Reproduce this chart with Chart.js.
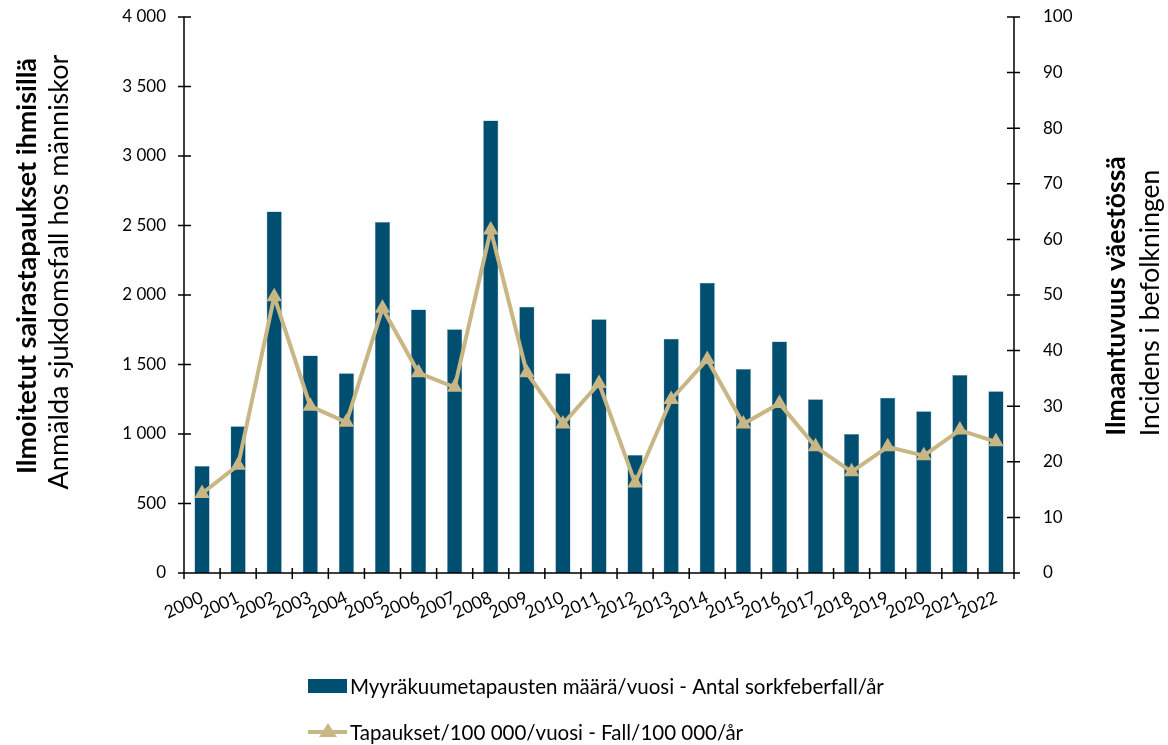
<!DOCTYPE html>
<html lang="fi">
<head>
<meta charset="utf-8">
<title>Myyräkuume 2000–2022</title>
<script src="https://cdn.jsdelivr.net/npm/chart.js@4/dist/chart.umd.min.js"></script>
<style>
  html, body { margin: 0; padding: 0; background: #fff; }
  #wrap { width: 1168px; height: 745px; position: relative; }
</style>
</head>
<body>
<div id="wrap"><canvas id="c" width="1168" height="745"></canvas></div>
<script>
// Years on the category axis
const years = ['2000','2001','2002','2003','2004','2005','2006','2007','2008','2009','2010','2011',
               '2012','2013','2014','2015','2016','2017','2018','2019','2020','2021','2022'];
// Reported cases per year (left axis)
const cases = [770, 1055, 2600, 1565, 1437, 2525, 1895, 1753, 3255, 1915, 1437, 1825,
               849, 1686, 2089, 1468, 1666, 1250, 1000, 1261, 1163, 1424, 1307];
// Incidence per 100 000 per year (right axis)
const incidence = [14.3, 19.4, 49.7, 30.0, 27.1, 47.6, 36.0, 33.4, 61.7, 36.0, 26.8, 34.1,
                   16.2, 31.2, 38.4, 26.8, 30.5, 22.7, 18.2, 22.7, 21.1, 25.7, 23.6];
// Axis tick ranges
const leftTicks = { min: 0, max: 4000, step: 500 };
const rightTicks = { min: 0, max: 100, step: 10 };

const seriesNames = ['Myyräkuumetapausten määrä/vuosi - Antal sorkfeberfall/år',
                     'Tapaukset/100 000/vuosi - Fall/100 000/år'];
const leftTitle = ['Ilmoitetut sairastapaukset ihmisillä', 'Anmälda sjukdomsfall hos människor'];
const rightTitle = ['Ilmaantuvuus väestössä', 'Incidens i befolkningen'];

const BAR = '#004f70';
const LINE = '#c9b685';
const FONT = 'Lato, "Open Sans", sans-serif';

const fmt = v => String(v).replace(/\B(?=(\d{3})+(?!\d))/g, ' ');

// Axis lines with tick marks crossing them, vertical titles and the stacked legend
const decor = {
  id: 'decor',
  afterDraw(chart) {
    const ctx = chart.ctx;
    const a = chart.chartArea;
    const x = chart.scales.x, yl = chart.scales.y, yr = chart.scales.y1;
    const barSet = chart.data.datasets.find(d => d.type === 'bar');
    const lineSet = chart.data.datasets.find(d => d.type === 'line');
    ctx.save();
    ctx.strokeStyle = '#000';
    ctx.lineWidth = 1.5;
    ctx.beginPath();
    ctx.moveTo(a.left, a.top); ctx.lineTo(a.left, a.bottom);
    ctx.moveTo(a.right, a.top); ctx.lineTo(a.right, a.bottom);
    ctx.moveTo(a.left, a.bottom); ctx.lineTo(a.right, a.bottom);
    yl.ticks.forEach(t => {
      const py = yl.getPixelForValue(t.value);
      ctx.moveTo(a.left - 6, py); ctx.lineTo(a.left + 7, py);
    });
    yr.ticks.forEach(t => {
      const py = yr.getPixelForValue(t.value);
      ctx.moveTo(a.right - 7, py); ctx.lineTo(a.right + 6, py);
    });
    for (let i = 0; i <= years.length; i++) {
      const px = x.getPixelForValue(i - 0.5);
      ctx.moveTo(px, a.bottom - 5); ctx.lineTo(px, a.bottom + 6);
    }
    ctx.stroke();

    // vertical axis titles
    ctx.fillStyle = '#000';
    ctx.textAlign = 'center';
    ctx.textBaseline = 'middle';
    const vtext = (txt, cx, cy, font) => {
      ctx.save();
      ctx.translate(cx, cy);
      ctx.rotate(-Math.PI / 2);
      ctx.font = font;
      ctx.fillText(txt, 0, 0);
      ctx.restore();
    };
    vtext(leftTitle[0], 27, 266, 'bold 27px ' + FONT);
    vtext(leftTitle[1], 59, 272, '27px ' + FONT);
    vtext(rightTitle[0], 1116, 296, 'bold 26.5px ' + FONT);
    vtext(rightTitle[1], 1150, 303, '26.5px ' + FONT);

    // legend
    const lx = 308, ly1 = 686, ly2 = 732;
    ctx.fillStyle = barSet.backgroundColor;
    ctx.fillRect(lx, ly1 - 7, 39, 14);
    ctx.strokeStyle = lineSet.borderColor;
    ctx.lineWidth = 4;
    ctx.beginPath();
    ctx.moveTo(lx, ly2); ctx.lineTo(lx + 39, ly2);
    ctx.stroke();
    ctx.fillStyle = lineSet.borderColor;
    ctx.beginPath();
    ctx.moveTo(lx + 20, ly2 - 9); ctx.lineTo(lx + 29, ly2 + 5); ctx.lineTo(lx + 11, ly2 + 5);
    ctx.closePath(); ctx.fill();
    ctx.fillStyle = '#000';
    ctx.textAlign = 'left';
    ctx.font = '20.5px ' + FONT;
    ctx.fillText(seriesNames[0], lx + 42, ly1 + 1);
    ctx.fillText(seriesNames[1], lx + 42, ly2 + 1);
    ctx.restore();
  }
};

// fixed box sizes for the value axes, without extra label padding at the ends
const fitVertical = w => s => {
  s.width = w;
  s.paddingTop = 0;
  s.paddingBottom = 0;
};

new Chart(document.getElementById('c'), {
  data: {
    labels: years,
    datasets: [
      {
        type: 'line',
        label: seriesNames[1],
        data: incidence,
        yAxisID: 'y1',
        borderColor: LINE,
        backgroundColor: LINE,
        borderWidth: 4,
        pointStyle: 'triangle',
        pointRadius: 9,
        pointBorderWidth: 0,
        pointBackgroundColor: LINE,
        tension: 0,
        order: 0
      },
      {
        type: 'bar',
        label: seriesNames[0],
        data: cases,
        yAxisID: 'y',
        backgroundColor: BAR,
        borderColor: '#5b8fa8',
        borderWidth: 0.5,
        categoryPercentage: 1,
        barPercentage: 0.42,
        order: 1
      }
    ]
  },
  options: {
    responsive: false,
    animation: false,
    layout: { padding: { top: 17, left: 0, right: 0, bottom: 0 } },
    plugins: { legend: { display: false }, tooltip: { enabled: false } },
    scales: {
      x: {
        offset: true,
        grid: { display: false },
        border: { display: false },
        ticks: {
          color: '#000',
          font: { family: FONT, size: 17.5 },
          autoSkip: false,
          minRotation: 25, maxRotation: 25,
          padding: 6
        },
        afterFit: s => { s.height = 172; s.paddingLeft = 0; s.paddingRight = 0; }
      },
      y: {
        position: 'left',
        min: leftTicks.min, max: leftTicks.max,
        grid: { display: false },
        border: { display: false },
        ticks: {
          stepSize: leftTicks.step,
          color: '#000',
          font: { family: FONT, size: 17 },
          padding: 10,
          callback: v => fmt(v)
        },
        afterFit: fitVertical(184)
      },
      y1: {
        position: 'right',
        min: rightTicks.min, max: rightTicks.max,
        grid: { display: false },
        border: { display: false },
        ticks: {
          stepSize: rightTicks.step,
          color: '#000',
          font: { family: FONT, size: 17 },
          padding: 21
        },
        afterFit: fitVertical(154)
      }
    }
  },
  plugins: [decor]
});
</script>
</body>
</html>
